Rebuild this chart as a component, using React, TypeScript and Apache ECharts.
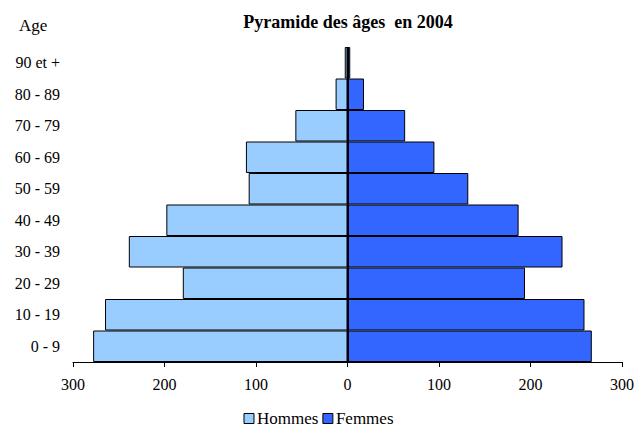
import React, { useEffect, useRef } from "react";
import * as echarts from "echarts";

const categories = ["0 - 9", "10 - 19", "20 - 29", "30 - 39", "40 - 49", "50 - 59", "60 - 69", "70 - 79", "80 - 89", "90 et +"];
const hommes = [278, 265, 180, 239, 198, 108, 111, 57, 13, 3];
const femmes = [267, 259, 194, 235, 187, 132, 95, 63, 18, 3];
const xTicks = [-300, -200, -100, 0, 100, 200, 300];

const FONT = "'Liberation Serif', 'DejaVu Serif', serif";

export default function App() {
  const ref = useRef<HTMLDivElement>(null);
  useEffect(() => {
    document.body.style.margin = "0";
    const chart = echarts.init(ref.current!, undefined, { renderer: "svg" });
    chart.setOption({
      animation: false,
      backgroundColor: "#ffffff",
      textStyle: { fontFamily: FONT, color: "#000" },
      title: {
        text: "Pyramide des âges  en 2004",
        left: 343,
        textAlign: "center",
        top: 8,
        textStyle: { fontFamily: FONT, fontWeight: "bold", fontSize: 18, color: "#000" },
      },
      graphic: [
        {
          type: "text",
          left: 19,
          top: 17,
          style: { text: "Age", font: `17px ${FONT}`, fill: "#000" },
        },
      ],
      legend: {
        data: ["Hommes", "Femmes"],
        left: "center",
        top: 405,
        itemWidth: 10,
        itemHeight: 10,
        itemGap: 4,
        icon: "rect",
        itemStyle: { borderColor: "#000", borderWidth: 1 },
        textStyle: { fontFamily: FONT, fontSize: 17, color: "#000", padding: [0, 0, 0, -2] },
      },
      grid: { left: 73, right: 15, top: 47, bottom: 65, containLabel: false },
      xAxis: {
        type: "value",
        min: -300,
        max: 300,
        interval: 100,
        axisLine: { show: true, lineStyle: { color: "#000", width: 1 } },
        axisTick: { show: true, length: 5, lineStyle: { color: "#000" } },
        splitLine: { show: false },
        axisLabel: {
          fontFamily: FONT,
          fontSize: 16,
          color: "#000",
          margin: 14,
          formatter: (v: number) => (xTicks.includes(v) ? String(Math.abs(v)) : ""),
        },
      },
      yAxis: {
        type: "category",
        data: categories,
        axisLine: { show: false },
        axisTick: { show: false },
        axisLabel: { fontFamily: FONT, fontSize: 16, color: "#000", margin: 13, align: "right" },
      },
      series: [
        {
          name: "Hommes",
          type: "bar",
          stack: "pop",
          barCategoryGap: "0%",
          data: hommes.map((v) => -v),
          itemStyle: { color: "#99CCFF", borderColor: "#000", borderWidth: 1 },
        },
        {
          name: "Femmes",
          type: "bar",
          stack: "pop",
          barCategoryGap: "0%",
          data: femmes,
          itemStyle: { color: "#3366FF", borderColor: "#000", borderWidth: 1 },
          markLine: {
            silent: true,
            symbol: "none",
            label: { show: false },
            lineStyle: { color: "#000", width: 2, type: "solid" },
            data: [{ xAxis: 0 }],
          },
        },
      ],
    });
    return () => chart.dispose();
  }, []);
  return <div ref={ref} style={{ width: 637, height: 427 }} />;
}
